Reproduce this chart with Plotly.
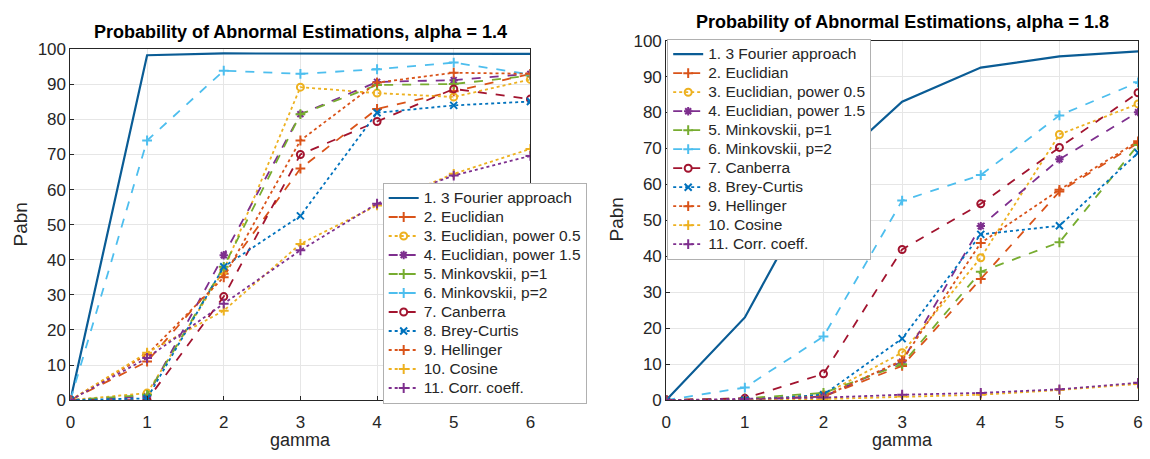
import plotly.graph_objects as go

gamma = [0, 1, 2, 3, 4, 5, 6]

names = [
    "1. 3 Fourier approach", "2. Euclidian", "3. Euclidian, power 0.5",
    "4. Euclidian, power 1.5", "5. Minkovskii, p=1", "6. Minkovskii, p=2",
    "7. Canberra", "8. Brey-Curtis", "9. Hellinger", "10. Cosine",
    "11. Corr. coeff.",
]

# alpha = 1.4
a14_fourier   = [0, 98.3, 98.8, 98.8, 98.8, 98.8, 98.7]
a14_eucl      = [0, 11.0, 36.0, 66.0, 83.0, 88.0, 93.0]
a14_eucl05    = [0, 2.0, 37.0, 89.2, 87.5, 86.4, 91.4]
a14_eucl15    = [0, 1.0, 41.3, 81.5, 90.7, 91.2, 93.0]
a14_mink1     = [0, 1.5, 38.0, 81.5, 89.8, 90.1, 92.5]
a14_mink2     = [0, 74.0, 93.9, 93.0, 94.3, 96.2, 92.8]
a14_canberra  = [0, 0.0, 29.5, 70.0, 79.4, 88.7, 85.8]
a14_brey      = [0, 0.5, 38.0, 52.5, 81.9, 84.0, 85.1]
a14_hell      = [0, 13.0, 35.0, 74.0, 90.5, 93.3, 93.0]
a14_cos       = [0, 13.5, 25.5, 44.5, 55.5, 64.5, 71.6]
a14_corr      = [0, 12.0, 27.5, 42.7, 56.0, 64.0, 69.6]

# alpha = 1.8
a18_fourier   = [0, 23.0, 63.0, 83.0, 92.5, 95.6, 97.0]
a18_eucl      = [0, 0.3, 1.0, 9.5, 33.7, 58.0, 71.5]
a18_eucl05    = [0, 0.0, 1.5, 13.2, 39.6, 73.9, 82.4]
a18_eucl15    = [0, 0.0, 1.0, 10.7, 48.4, 67.0, 80.1]
a18_mink1     = [0, 0.5, 2.0, 10.0, 35.7, 43.9, 71.0]
a18_mink2     = [0, 3.5, 17.7, 55.5, 62.6, 79.2, 88.4]
a18_canberra  = [0, 0.5, 7.3, 41.9, 54.6, 70.3, 85.5]
a18_brey      = [0, 0.0, 1.5, 17.1, 46.1, 48.5, 68.8]
a18_hell      = [0, 0.0, 1.0, 11.0, 43.7, 58.5, 72.0]
a18_cos       = [0, 0.0, 0.3, 1.0, 1.5, 2.8, 4.5]
a18_corr      = [0, 0.3, 0.7, 1.5, 2.0, 3.0, 4.8]

y_ticks = [0, 10, 20, 30, 40, 50, 60, 70, 80, 90, 100]
x_ticks = [0, 1, 2, 3, 4, 5, 6]

series14 = [a14_fourier, a14_eucl, a14_eucl05, a14_eucl15, a14_mink1, a14_mink2,
            a14_canberra, a14_brey, a14_hell, a14_cos, a14_corr]
series18 = [a18_fourier, a18_eucl, a18_eucl05, a18_eucl15, a18_mink1, a18_mink2,
            a18_canberra, a18_brey, a18_hell, a18_cos, a18_corr]

colors = ["#0a5c95", "#D95319", "#EDB120", "#7E2F8E", "#77AC30", "#4DBEEE",
          "#A2142F", "#0072BD", "#D95319", "#EDB120", "#7E2F8E"]
dashes = ["solid", "dash", "dot", "dash", "dash", "dash", "dash", "dot", "dot", "dot", "dot"]
symbols = [None, "cross-thin-open", "circle-open", "asterisk-open", "cross-thin-open",
           "cross-thin-open", "circle-open", "x-thin-open", "cross-thin-open",
           "cross-thin-open", "cross-thin-open"]

FONT = "Liberation Sans, Arial, Helvetica"
TXT = "#262626"

fig = go.Figure()

def add(series, xa, ya, leg):
    for i, (nm, ys) in enumerate(zip(names, series)):
        mode = "lines" if symbols[i] is None else "lines+markers"
        marker = dict(color=colors[i], size=7,
                      line=dict(color=colors[i], width=2))
        if symbols[i] is not None:
            marker["symbol"] = symbols[i]
        fig.add_trace(go.Scatter(
            x=gamma, y=ys,
            name="<span style='font-size:15.5px'>" + nm + "</span>",
            mode=mode, xaxis=xa, yaxis=ya, legend=leg,
            line=dict(color=colors[i], width=2.2 if i == 0 else 1.8, dash=dashes[i]),
            marker=marker,
        ))

add(series14, "x", "y", "legend")
add(series18, "x2", "y2", "legend2")

axis_common = dict(
    showgrid=True, gridcolor="#e6e6e6", gridwidth=1,
    showline=True, linecolor="#262626", linewidth=1, mirror=True,
    ticks="inside", ticklen=4, tickcolor="#262626",
    tickfont=dict(family=FONT, size=17, color=TXT),
    zeroline=False,
)

legend_common = dict(
    xanchor="left", yanchor="top",
    bgcolor="white", bordercolor="#b0b0b0", borderwidth=1,
    font=dict(family=FONT, size=12, color=TXT), tracegroupgap=0,
    itemwidth=30,
)

fig.update_layout(
    width=1150, height=459,
    margin=dict(l=0, r=0, t=0, b=0),
    paper_bgcolor="white", plot_bgcolor="white",
    font=dict(family=FONT, size=14, color=TXT),
    xaxis=dict(domain=[66/1150, 530/1150], range=[0, 6], tickvals=x_ticks,
               anchor="y", ticklabelstandoff=6, **axis_common),
    yaxis=dict(domain=[1-408/459, 1-42/459], range=[0, 100], tickvals=y_ticks,
               anchor="x", **axis_common),
    xaxis2=dict(domain=[667/1150, 1143/1150], range=[0, 6], tickvals=x_ticks,
                anchor="y2", ticklabelstandoff=6, **axis_common),
    yaxis2=dict(domain=[1-408/459, 1-33/459], range=[0, 100], tickvals=y_ticks,
                anchor="x2", **axis_common),
    legend=dict(x=381/1150, y=1-181/459, **legend_common),
    legend2=dict(x=668/1150, y=1-31/459, **legend_common),
    showlegend=True,
)

def ann(text, x, y, size, bold=False, angle=0):
    return dict(text=("<b>%s</b>" % text) if bold else text,
                x=x/1150, y=1-y/459, xref="paper", yref="paper",
                xanchor="center", yanchor="middle", showarrow=False,
                textangle=angle,
                font=dict(family=FONT, size=size, color="#000" if bold else TXT))

fig.update_layout(annotations=[
    ann("Probability of Abnormal Estimations, alpha = 1.4", 298, 24, 18, bold=True),
    ann("Probability of Abnormal Estimations, alpha = 1.8", 905, 14, 18, bold=True),
    ann("gamma", 298, 450, 18),
    ann("gamma", 905, 450, 18),
    ann("Pabn", 16, 225, 19, angle=-90),
    ann("Pabn", 617, 220, 19, angle=-90),
])

fig.write_html("out.html")
